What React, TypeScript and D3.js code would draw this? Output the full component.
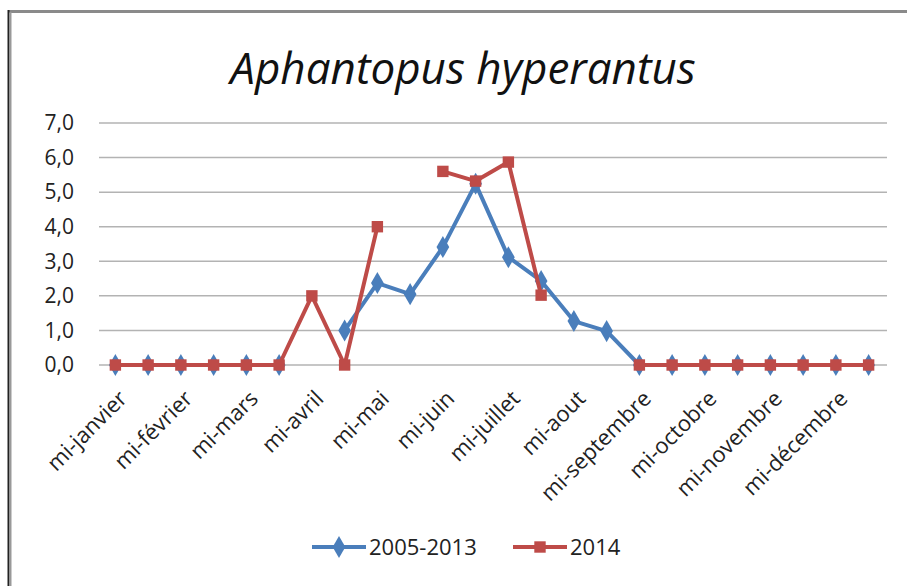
import { useRef, useEffect } from 'react';
import * as d3 from 'd3';

// 24 half-month slots, labels shown on the "mi-" ones
const months = [
  'mi-janvier', 'mi-février', 'mi-mars', 'mi-avril', 'mi-mai', 'mi-juin',
  'mi-juillet', 'mi-aout', 'mi-septembre', 'mi-octobre', 'mi-novembre', 'mi-décembre',
];
const slots = d3.range(24);
const yTicks = [0, 1, 2, 3, 4, 5, 6, 7];

const mean0513: (number | null)[] = [
  0, 0, 0, 0, 0, 0, null, 1.0, 2.37, 2.05, 3.41, 5.24,
  3.12, 2.43, 1.27, 0.98, 0, 0, 0, 0, 0, 0, 0, 0,
];
const y2014: (number | null)[] = [
  0, 0, 0, 0, 0, 0, 2.0, 0, 4.0, null, 5.6, 5.32,
  5.87, 2.02, null, null, 0, 0, 0, 0, 0, 0, 0, 0,
];

const BLUE = '#4a7ebb';
const RED = '#be4b48';
const W = 907;
const H = 586;

export default function App() {
  const svgRef = useRef<SVGSVGElement>(null);

  useEffect(() => {
    if (!svgRef.current) return;
    const svg = d3.select(svgRef.current);
    svg.selectAll('*').remove();

    const font = '"Open Sans", sans-serif';
    const left = 99, right = 885, top = 123, bottom = 365;

    const x = d3.scaleBand<number>().domain(slots).range([left, right]);
    const cx = (i: number) => (x(i) as number) + x.bandwidth() / 2;
    const y = d3.scaleLinear().domain([0, 7]).range([bottom, top]);

    svg.append('rect').attr('width', W).attr('height', H).attr('fill', '#fff');

    // frame
    svg.append('line').attr('x1', 9).attr('x2', W + 5).attr('y1', 11.5).attr('y2', 11.5)
      .attr('stroke', '#8a8a8a').attr('stroke-width', 3);
    svg.append('line').attr('x1', 8.5).attr('x2', 8.5).attr('y1', 10).attr('y2', H + 5)
      .attr('stroke', '#222').attr('stroke-width', 2);
    svg.append('line').attr('x1', 10.5).attr('x2', 10.5).attr('y1', 12).attr('y2', H + 5)
      .attr('stroke', '#999').attr('stroke-width', 2);

    svg.append('text')
      .attr('x', 463).attr('y', 84)
      .attr('text-anchor', 'middle')
      .attr('font-family', font).attr('font-style', 'italic')
      .attr('font-size', 44).attr('fill', '#111')
      .text('Aphantopus hyperantus');

    // gridlines
    svg.append('g').selectAll('line').data(yTicks).join('line')
      .attr('x1', left).attr('x2', right + 2)
      .attr('y1', d => y(d)).attr('y2', d => y(d))
      .attr('stroke', '#b3b3b3').attr('stroke-width', 1.5);

    svg.append('g').selectAll('text').data(yTicks).join('text')
      .attr('x', 74).attr('y', d => y(d))
      .attr('dy', '0.35em')
      .attr('text-anchor', 'end')
      .attr('font-family', font).attr('font-size', 21).attr('fill', '#222')
      .text(d => d3.format('.1f')(d).replace('.', ','));

    // x labels
    svg.append('g').selectAll('text').data(months).join('text')
      .attr('transform', (_d, i) => `translate(${cx(i * 2) + 13},${bottom + 35}) rotate(-45)`)
      .attr('text-anchor', 'end')
      .attr('font-family', font).attr('font-size', 22).attr('fill', '#222')
      .text(d => d);

    const series = [
      { name: '2005-2013', values: mean0513, color: BLUE, shape: d3.symbolDiamond, size: 140 },
      { name: '2014', values: y2014, color: RED, shape: d3.symbolSquare, size: 130 },
    ];

    const line = d3.line<number | null>()
      .defined(d => d !== null)
      .x((_d, i) => cx(i))
      .y(d => y(d as number));

    series.forEach(s => {
      const g = svg.append('g');
      g.append('path')
        .attr('d', line(s.values) as string)
        .attr('fill', 'none').attr('stroke', s.color)
        .attr('stroke-width', 4).attr('stroke-linejoin', 'round');
      g.selectAll('path.m').data(s.values.map((v, i) => ({ v, i })).filter(d => d.v !== null))
        .join('path').attr('class', 'm')
        .attr('transform', d => `translate(${cx(d.i)},${y(d.v as number)})`)
        .attr('d', d3.symbol().type(s.shape).size(s.size)() as string)
        .attr('fill', s.color);
    });

    // legend
    const ly = 547;
    const legendX = [312, 513];
    series.forEach((s, k) => {
      const lx = legendX[k];
      svg.append('line').attr('x1', lx).attr('x2', lx + 54).attr('y1', ly).attr('y2', ly)
        .attr('stroke', s.color).attr('stroke-width', 4);
      svg.append('path')
        .attr('transform', `translate(${lx + 27},${ly})`)
        .attr('d', d3.symbol().type(s.shape).size(s.size)() as string)
        .attr('fill', s.color);
      svg.append('text')
        .attr('x', lx + 57).attr('y', ly).attr('dy', '0.35em')
        .attr('font-family', font).attr('font-size', 22).attr('fill', '#222')
        .text(s.name);
    });
  }, []);

  return (
    <div style={{ position: 'fixed', left: 0, top: 0 }}>
      <svg ref={svgRef} width={W} height={H} />
    </div>
  );
}
